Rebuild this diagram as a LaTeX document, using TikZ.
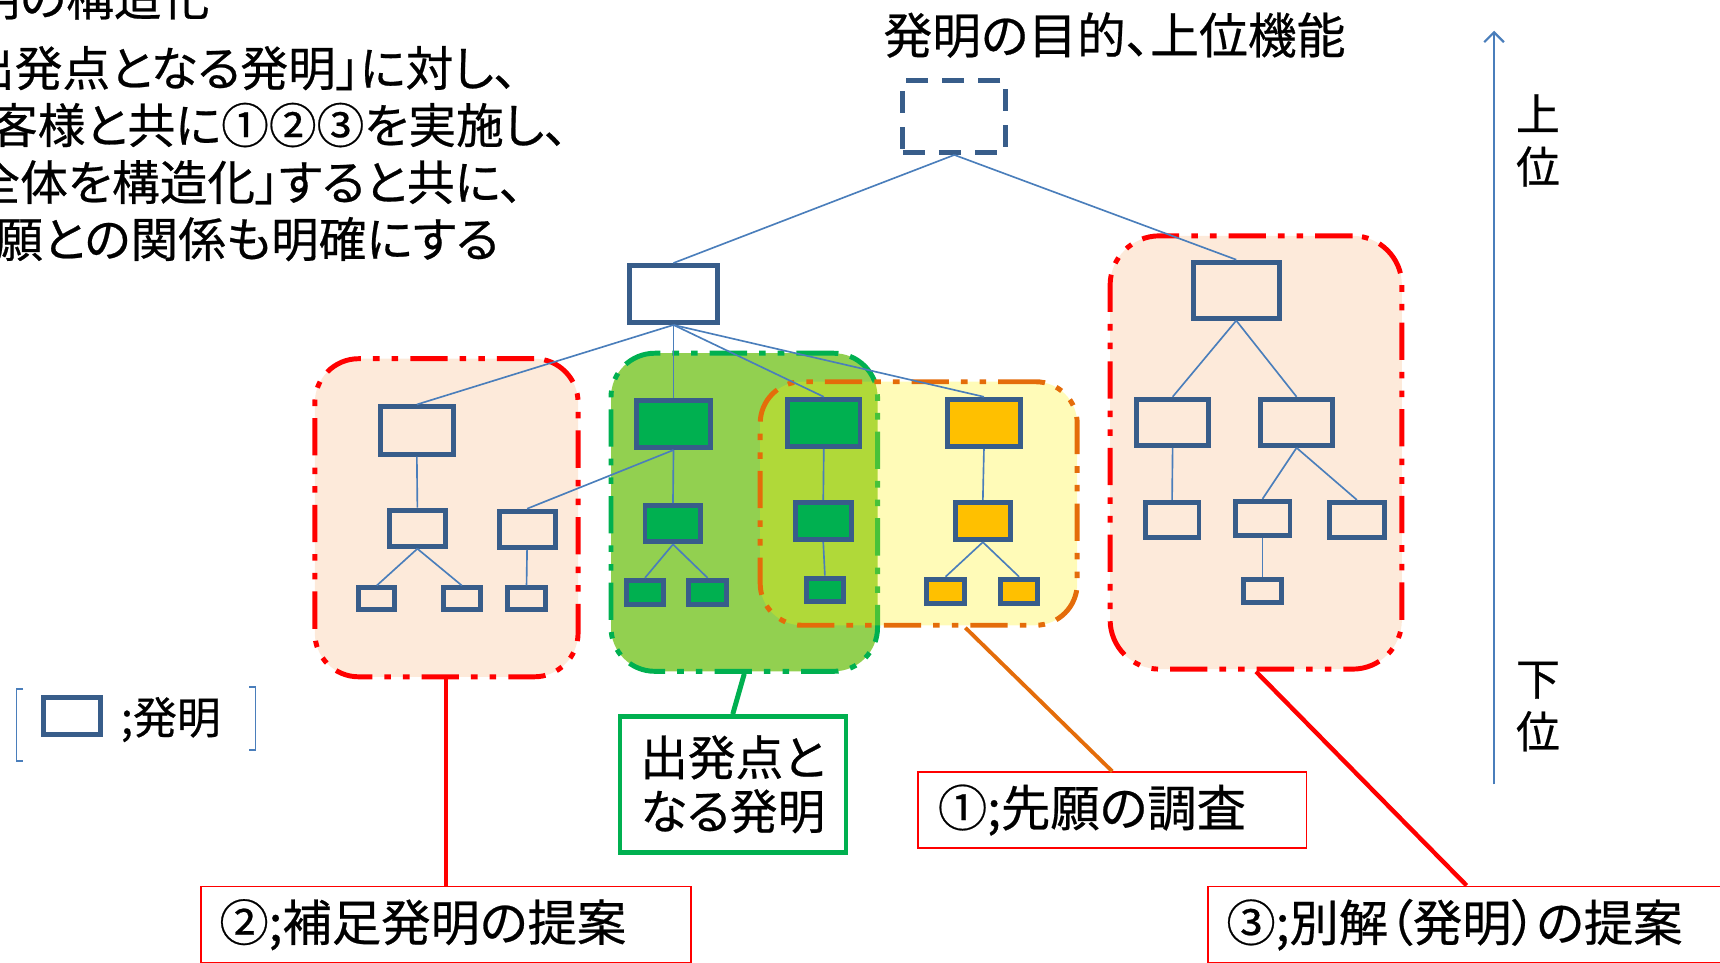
\documentclass[tikz,border=0pt]{standalone}
\usepackage{fontspec}
\setmainfont{Noto Sans CJK JP}[RawFeature=+palt,FakeBold=0.5]
\usetikzlibrary{arrows.meta,calc}
\definecolor{boxline}{HTML}{385D8A}
\definecolor{connc}{HTML}{4A7EBB}
\definecolor{peach}{HTML}{FDEADA}
\definecolor{grpgreen}{HTML}{92D050}
\definecolor{dkgreen}{HTML}{00B050}
\definecolor{orangeln}{HTML}{E46C0A}
\definecolor{gold}{HTML}{FFC000}
\begin{document}
\begin{tikzpicture}[x=1pt,y=-1pt,
  ibox/.style={draw=boxline,line width=4.5pt,inner sep=0pt},
  gbox/.style={ibox,fill=dkgreen},
  obox/.style={ibox,fill=gold},
  conn/.style={draw=connc,line width=1.5pt},
  grp/.style={rounded corners=40pt,line width=4.5pt,inner sep=0pt,
     dash pattern=on 34pt off 11pt on 6pt off 11pt on 6pt off 11pt},
  lbl/.style={draw=red,line width=1.5pt,fill=white,inner ysep=0pt,align=left,
     font=\fontsize{45}{52}\selectfont},
  tl/.style={font=\fontsize{43.5}{50}\selectfont,inner sep=0pt,anchor=east}
]
\useasboundingbox (0,0) rectangle (1568,877);
\clip (0,0) rectangle (1568,877);

% top-left text
\node[tl] (t0) at (191,-2) {発明の構造化};
\node[tl] (t1) at (472,62) {「出発点となる発明」に対し、};
\node[tl] (t2) at (518,114) {お客様と共に①②③を実施し、};
\node[tl] (t3) at (477,166) {「全体を構造化」すると共に、};
\node[tl] (t4) at (455,218) {先願との関係も明確にする};

% title
\node[font=\fontsize{44.5}{52}\selectfont] (title) at (1016,32) {発明の目的、上位機能};

% groups
\node[grp,draw=red,fill=peach,minimum width=240,minimum height=290] (LG) at (407,472) {};
\node[grp,draw=red,fill=peach,rounded corners=45pt,minimum width=266,minimum height=395] (RG) at (1145,412.5) {};
\node[grp,draw=dkgreen,fill=grpgreen,minimum width=243,minimum height=290] (GG) at (678.5,467) {};
\node[grp,draw=orangeln,fill=yellow,fill opacity=0.28,draw opacity=1,rounded corners=38pt,minimum width=289,minimum height=222] (OG) at (837.5,459) {};

% boxes
\node[ibox,dash pattern=on 20pt off 13pt,minimum width=94,minimum height=66] (T) at (870,106) {};
\node[ibox,minimum width=80,minimum height=52] (B1) at (614,268) {};
\node[ibox,minimum width=78,minimum height=51] (R1) at (1127,264.5) {};
\node[ibox,minimum width=66,minimum height=42] (R2a) at (1069,385) {};
\node[ibox,minimum width=66,minimum height=42] (R2b) at (1182,385) {};
\node[ibox,minimum width=49,minimum height=32] (R3a) at (1068.5,474) {};
\node[ibox,minimum width=50,minimum height=31] (R3b) at (1151,472.5) {};
\node[ibox,minimum width=50,minimum height=32] (R3c) at (1237,474) {};
\node[ibox,minimum width=34,minimum height=21] (R4) at (1151,538.5) {};
\node[ibox,minimum width=66,minimum height=43] (L1) at (380,392.5) {};
\node[ibox,minimum width=51,minimum height=33] (L2a) at (380.5,481.5) {};
\node[ibox,minimum width=51,minimum height=33] (L2b) at (480.5,482.5) {};
\node[ibox,minimum width=33,minimum height=20] (L3a) at (343.5,546) {};
\node[ibox,minimum width=34,minimum height=20] (L3b) at (421,546) {};
\node[ibox,minimum width=34,minimum height=20] (L3c) at (480,546) {};
\node[gbox,minimum width=68,minimum height=43] (G1) at (614,386.5) {};
\node[gbox,minimum width=51,minimum height=33] (G2) at (613.5,477.5) {};
\node[gbox,minimum width=34,minimum height=22] (G3a) at (588,540) {};
\node[gbox,minimum width=34,minimum height=22] (G3b) at (645,540) {};
\node[gbox,minimum width=66,minimum height=43] (H1) at (751,385.5) {};
\node[gbox,minimum width=51,minimum height=34] (H2) at (750.5,475) {};
\node[gbox,minimum width=34,minimum height=21] (H3) at (752,537.5) {};
\node[obox,minimum width=66,minimum height=43] (O1) at (897,385.5) {};
\node[obox,minimum width=50,minimum height=34] (O2) at (896,475) {};
\node[obox,minimum width=34,minimum height=22] (O3a) at (862,539) {};
\node[obox,minimum width=34,minimum height=22] (O3b) at (929,539) {};

% connectors
\draw[conn] (T.south) -- (B1.north);
\draw[conn] (T.south) -- (R1.north);
\draw[conn] (B1.south) -- (L1.north);
\draw[conn] (B1.south) -- (G1.north);
\draw[conn] (B1.south) -- (H1.north);
\draw[conn] (B1.south) -- (O1.north);
\draw[conn] (R1.south) -- (R2a.north);
\draw[conn] (R1.south) -- (R2b.north);
\draw[conn] (R2a.south) -- (R3a.north);
\draw[conn] (R2b.south) -- (R3b.north);
\draw[conn] (R2b.south) -- (R3c.north);
\draw[conn] (R3b.south) -- (R4.north);
\draw[conn] (L1.south) -- (L2a.north);
\draw[conn] (G1.south) -- (L2b.north);
\draw[conn] (L2a.south) -- (L3a.north);
\draw[conn] (L2a.south) -- (L3b.north);
\draw[conn] (L2b.south) -- (L3c.north);
\draw[conn] (G1.south) -- (G2.north);
\draw[conn] (G2.south) -- (G3a.north);
\draw[conn] (G2.south) -- (G3b.north);
\draw[conn] (H1.south) -- (H2.north);
\draw[conn] (H2.south) -- (H3.north);
\draw[conn] (O1.south) -- (O2.north);
\draw[conn] (O2.south) -- (O3a.north);
\draw[conn] (O2.south) -- (O3b.north);

% labels
\node[lbl,text width=413,inner xsep=17,minimum height=70] (lab2) at (406.5,843) {②;補足発明の提案};
\node[lbl,text width=318,inner xsep=18,minimum height=69] (lab1) at (1014,738.5) {①;先願の調査};
\node[lbl,text width=438,inner xsep=17,minimum height=70] (lab3) at (1337,843) {③;別解（発明）の提案};
\node[draw=dkgreen,line width=4pt,fill=white,minimum width=206,minimum height=124,align=center,inner sep=0pt,
  font=\fontsize{43.5}{49}\selectfont] (labG) at (668,715) {出発点と\\なる発明};

\draw[red,line width=4pt] (lab2.north) -- (lab2.north |- LG.south);
\draw[dkgreen,line width=4.5pt] (GG.south) -- (labG.north);
\draw[orangeln,line width=3.5pt] ($(OG.south west)!0.645!(OG.south east)$) -- (lab1.north);
\draw[red,line width=4pt] (RG.south) -- (lab3.north);

% legend
\node[ibox,minimum width=52,minimum height=34] (leg) at (66,653) {};
\node[anchor=west,inner sep=0pt,font=\fontsize{40}{46}\selectfont] (legt) at (110,656) {;発明};
\draw[connc,line width=1.5pt] (21,628) -- (15,628) -- (15,694) -- (21,694);
\draw[connc,line width=1.5pt] (227,626) -- (233,626) -- (233,684) -- (227,684);

% vertical arrow
\coordinate (abot) at (1362,715);
\coordinate (atop) at (1362,28);
\draw[connc,line width=2pt,-{Straight Barb[length=9pt,width=18pt]}] (abot) -- (atop);
\node[align=center,inner sep=0pt,font=\fontsize{40}{48}\selectfont] (up) at (1402,128) {上\\位};
\node[align=center,inner sep=0pt,font=\fontsize{40}{48}\selectfont] (down) at (1402,644) {下\\位};
\end{tikzpicture}
\end{document}
